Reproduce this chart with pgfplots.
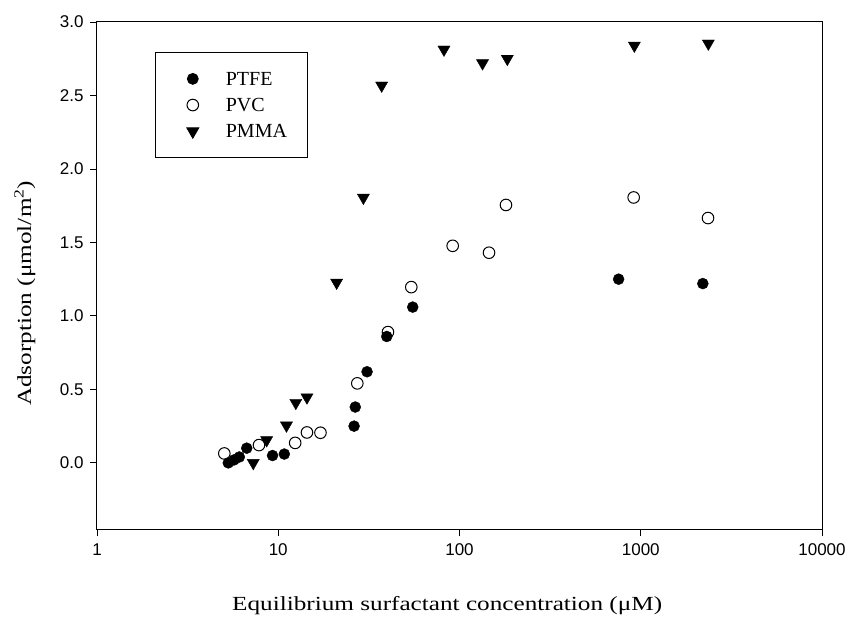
\documentclass[border=0pt]{standalone}
\usepackage{fontspec}
\setmainfont{Liberation Serif}
\setsansfont{Liberation Sans}
\newfontfamily\labelfont[FakeStretch=1.26]{Liberation Serif}
\usepackage{pgfplots}
\pgfplotsset{compat=1.18}
\begin{document}
\begin{tikzpicture}
\begin{axis}[
  scale only axis,
  width=725pt, height=507pt,
  xmode=log, log basis x=10,
  xmin=1, xmax=10000,
  ymin=-0.45, ymax=3.0,
  xtick={1,10,100,1000,10000},
  xticklabels={1,10,100,1000,10000},
  ytick={0,0.5,1.0,1.5,2.0,2.5,3.0},
  yticklabel style={/pgf/number format/fixed, /pgf/number format/fixed zerofill, /pgf/number format/precision=1, xshift=-3pt},
  /pgf/number format/assume math mode=true,
  ticklabel style={font=\sffamily\fontsize{17}{19}\selectfont},
  xtick pos=bottom, ytick pos=left,
  tick align=outside,
  major tick length=7pt,
  minor tick length=3pt,
  minor x tick style={yshift=3pt},
  xticklabel style={yshift=-4pt},
  axis line style={line width=1pt},
  every tick/.style={black, line width=0.9pt},
  xlabel={Equilibrium surfactant concentration (μM)},
  ylabel={Adsorption (μmol/m\textsuperscript{2})},
  label style={font=\labelfont\fontsize{20}{22}\selectfont},
  xlabel style={at={(axis description cs:0.483,0)}, anchor=north, yshift=-64pt},
  ylabel style={at={(axis description cs:0,0.465)}, anchor=south, yshift=58pt},
  legend style={at={(axis description cs:0.08,0.941)}, anchor=north west,
    draw=black, line width=0.8pt, font=\fontsize{20}{22}\selectfont,
    inner xsep=18pt, inner ysep=18pt, row sep=9pt,
    nodes={text depth=0pt},
    /tikz/every odd column/.append style={column sep=25pt}},
  legend image code/.code={\path (-19pt,0pt) (0pt,0pt);
    \draw[mark repeat=2,mark phase=2,#1] plot coordinates {(-1pt,0pt) (0pt,0pt) (1pt,0pt)};},
  legend cell align=left,
]
\addplot[only marks, mark=*, mark size=5.5pt, mark options={fill=black, draw=black}] coordinates {
 (5.3,0.00) (5.7,0.02) (6.1,0.04) (6.7,0.10) (9.3,0.05) (10.8,0.06)
 (26.2,0.25) (26.6,0.38) (30.9,0.62) (39.7,0.86) (55.2,1.06)
 (755,1.25) (2200,1.22)
};
\addlegendentry{PTFE}
\addplot[only marks, mark=o, mark size=5.8pt, mark options={draw=black, line width=1pt}] coordinates {
 (5.04,0.064) (7.83,0.121) (12.4,0.136) (14.4,0.207) (17.1,0.205)
 (27.3,0.541) (40.3,0.89) (54.2,1.196) (91.7,1.477) (145.5,1.43)
 (180.5,1.755) (914,1.806) (2350,1.666)
};
\addlegendentry{PVC}
\addplot[only marks, mark=triangle*, mark size=7pt, mark options={rotate=180, fill=black, draw=black}] coordinates {
 (7.28,0.00) (8.63,0.155) (11.1,0.255) (12.5,0.409) (14.4,0.446)
 (21.0,1.227) (29.5,1.805) (37.2,2.568) (82.1,2.813) (134,2.72)
 (183.6,2.75) (922,2.84) (2360,2.854)
};
\addlegendentry{PMMA}
\end{axis}
\pgfresetboundingbox
\path ([xshift=-97pt,yshift=-90pt]current axis.south west) rectangle ([xshift=29pt,yshift=22pt]current axis.north east);
\end{tikzpicture}
\end{document}
